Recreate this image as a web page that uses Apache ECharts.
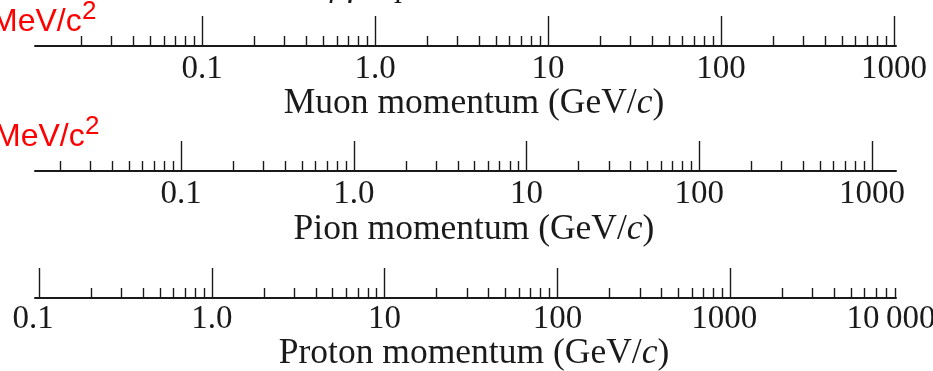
<!DOCTYPE html>
<html>
<head>
<meta charset="utf-8">
<script src="https://cdn.jsdelivr.net/npm/echarts@6/dist/echarts.min.js"></script>
<style>
  html, body { margin: 0; padding: 0; background: #ffffff; }
  #chart { width: 933px; height: 371px; }
</style>
</head>
<body>
<div id="chart"></div>
<script>
// Momentum scales for three particles, each on its own log axis.
const particles = ['Muon', 'Pion', 'Proton'];
const muonRange = [0.0108, 1027];
const pionRange = [0.01428, 1377];
const protonRange = [0.0948, 9110];
const muonMajor = [0.1, 1, 10, 100, 1000];
const pionMajor = [0.1, 1, 10, 100, 1000];
const protonMajor = [0.1, 1, 10, 100, 1000];
const muonLabelValues = [0.1, 1, 10, 100, 1000];
const pionLabelValues = [0.1, 1, 10, 100, 1000];
const protonLabelValues = [0.1, 1, 10, 100, 1000, 10000];
const majorLabels = ['0.1', '1.0', '10', '100', '1000', '10\u2009000'];
const decadeStarts = [0.01, 0.1, 1, 10, 100, 1000];
const decadeSteps = [2, 3, 4, 5, 6, 7, 8, 9];
const massUnit = 'MeV/c';
const massUnitPower = '2';
const upperAxisName = 'βγ = p/Mc';

const ranges = [muonRange, pionRange, protonRange];
const majors = [muonMajor, pionMajor, protonMajor];
const labelValues = [muonLabelValues, pionLabelValues, protonLabelValues];

// layout of each axis strip
const axisLineY = [46, 171, 298];
const labelMargin = [7, 7, 5];
const nameGap = [40, 41, 38];
// leftward nudge (px) of individual decade labels on the proton scale
const protonLabelNudge = { '-1': 6, '3': 6, '4': 12 };

const ink = '#1a1a1a';
const serif = '"Liberation Serif", "Times New Roman", serif';
const PLOT_LEFT = 35, PLOT_RIGHT_EDGE = 896, WIDTH = 933;

function minorTicks(range) {
  const out = [];
  decadeStarts.forEach(d => decadeSteps.forEach(s => {
    const v = +(d * s).toPrecision(6);
    if (v >= range[0] && v <= range[1]) out.push(v);
  }));
  return out;
}

function decadeOf(v) { return Math.round(Math.log10(v)); }
function labelFor(v) { return majorLabels[decadeOf(v) + 1]; }
function nudgedLabelFor(v) {
  const n = protonLabelNudge[String(decadeOf(v))];
  return n ? '{n' + n + '|' + labelFor(v) + '}' : labelFor(v);
}
const labelFont = { color: ink, fontFamily: serif, fontSize: 33 };
const nudgeRich = {
  n6: Object.assign({ padding: [0, 12, 0, 0] }, labelFont),
  n12: Object.assign({ padding: [0, 24, 0, 0] }, labelFont)
};

const grid = [], xAxis = [], yAxis = [];
particles.forEach((p, i) => {
  const range = ranges[i];
  const labelsMax = labelValues[i][labelValues[i].length - 1];
  // the label strip may run past the drawn line so the last decade label fits
  const labelRange = [range[0], Math.max(range[1], labelsMax)];
  const decadePx = (PLOT_RIGHT_EDGE - PLOT_LEFT) / Math.log10(range[1] / range[0]);
  const labelRightEdge = PLOT_LEFT + decadePx * Math.log10(labelRange[1] / labelRange[0]);

  // grid holding the axis line and sub-decade ticks
  grid.push({
    left: PLOT_LEFT, right: WIDTH - PLOT_RIGHT_EDGE, top: axisLineY[i] - 20, height: 20,
    outerBoundsMode: 'none', containLabel: false
  });
  // grid holding decade ticks, labels and the title
  grid.push({
    left: PLOT_LEFT, right: WIDTH - labelRightEdge, top: axisLineY[i] - 20, height: 20,
    outerBoundsMode: 'none', containLabel: false
  });
  yAxis.push({ gridIndex: 2 * i, type: 'value', show: false, min: 0, max: 1 });
  yAxis.push({ gridIndex: 2 * i + 1, type: 'value', show: false, min: 0, max: 1 });

  xAxis.push({
    gridIndex: 2 * i, type: 'log', logBase: 10, position: 'bottom',
    min: range[0], max: range[1],
    axisLine: { show: true, lineStyle: { color: ink, width: 2 } },
    axisTick: {
      show: true, inside: true, length: 10, customValues: minorTicks(range),
      lineStyle: { color: ink, width: 1.4 }
    },
    minorTick: { show: false },
    splitLine: { show: false },
    axisLabel: { show: false }
  });

  const titleShift = 2 * (474 - (PLOT_LEFT + labelRightEdge) / 2);
  const isProton = p === 'Proton';
  xAxis.push({
    gridIndex: 2 * i + 1, type: 'log', logBase: 10, position: 'bottom',
    min: labelRange[0], max: labelRange[1],
    axisLine: { show: false },
    axisTick: {
      show: true, inside: true, length: 30, customValues: majors[i],
      lineStyle: { color: ink, width: 1.4 }
    },
    minorTick: { show: false },
    splitLine: { show: false },
    axisLabel: Object.assign({
      show: true, customValues: labelValues[i], margin: labelMargin[i],
      formatter: isProton ? nudgedLabelFor : labelFor, hideOverlap: false,
      showMinLabel: true, showMaxLabel: true,
      rich: nudgeRich
    }, labelFont),
    name: p + ' momentum (GeV/{i|c})',
    nameLocation: 'middle',
    nameGap: nameGap[i],
    nameMoveOverlap: false,
    nameTextStyle: {
      color: ink, fontFamily: serif, fontSize: 35.5,
      padding: titleShift >= 0 ? [0, 0, 0, titleShift] : [0, -titleShift, 0, 0],
      rich: { i: { fontStyle: 'italic', fontFamily: serif, fontSize: 35.5, color: ink } }
    }
  });
});

const unitLabel = (x, y) => ([
  {
    type: 'text', left: x, top: y,
    style: { text: massUnit, fill: '#ff0000', font: '32px "Liberation Sans", Arial, sans-serif' }
  },
  {
    type: 'text', left: x + 91, top: y - 7,
    style: { text: massUnitPower, fill: '#ff0000', font: '26px "Liberation Sans", Arial, sans-serif' }
  }
]);

const chart = echarts.init(document.getElementById('chart'));
chart.setOption({
  animation: false,
  grid: grid,
  xAxis: xAxis,
  yAxis: yAxis,
  series: [],
  graphic: [
    ...unitLabel(-9, 6),
    ...unitLabel(-6, 121),
    {
      type: 'text', left: 330, top: -28,
      style: { text: upperAxisName, fill: ink, font: 'italic 32px ' + serif }
    }
  ]
});
</script>
</body>
</html>
